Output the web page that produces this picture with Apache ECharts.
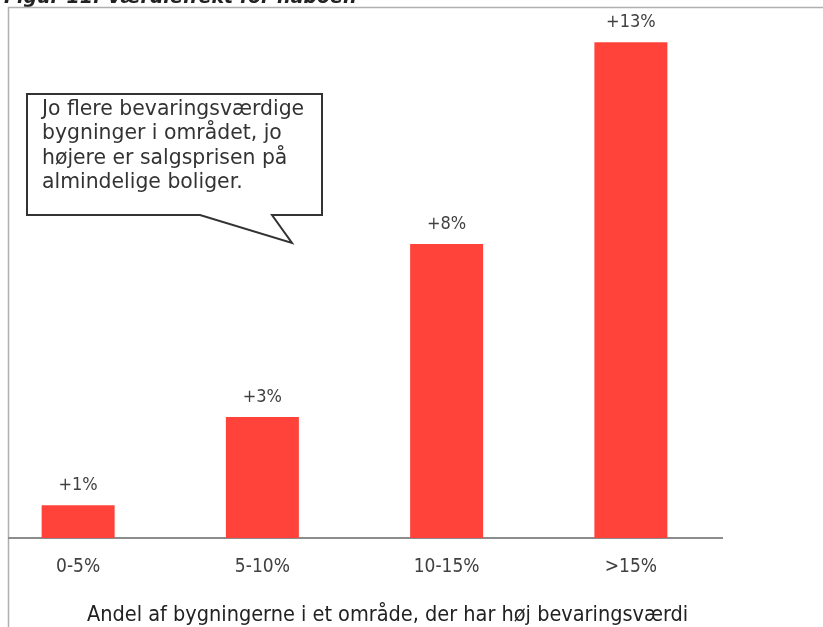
<!DOCTYPE html>
<html>
<head>
<meta charset="utf-8">
<script src="https://cdn.jsdelivr.net/npm/echarts@6/dist/echarts.min.js"></script>
<style>
    html,body{margin:0;padding:0;background:#fff;}
    #chart{width:823px;height:627px;}
</style>
</head>
<body>
<div id="chart"></div>
<script>
    // data
    const categories = ['0-5%', '5-10%', '10-15%', '>15%']
    const values = [0.86, 3.17, 7.71, 13]
    const valueLabels = ['+1%', '+3%', '+8%', '+13%']
    const calloutLines = [
        'Jo flere bevaringsværdige',
        'bygninger i området, jo',
        'højere er salgsprisen på',
        'almindelige boliger.'
    ]
    const axisTitle = 'Andel af bygningerne i et område, der har høj bevaringsværdi'

    const chart = echarts.init(document.getElementById('chart'))
    const narrow = '"Liberation Sans Narrow", "DejaVu Sans Condensed", sans-serif'

    const option = {
        animation: false,
        grid: {
            left: -14,
            width: 737,
            top: 4,
            bottom: 89,
            outerBoundsMode: 'none',
            containLabel: false
        },
        xAxis: {
            type: 'category',
            data: categories,
            axisLine: {show: false},
            axisTick: {show: false},
            axisLabel: {
                margin: 20,
                fontFamily: narrow,
                fontSize: 19,
                color: '#404040'
            }
        },
        yAxis: {
            type: 'value',
            min: 0,
            max: 14,
            show: false
        },
        series: [
            {
                type: 'bar',
                data: values,
                barWidth: 73,
                itemStyle: {color: '#ff433a'},
                label: {
                    show: true,
                    position: 'top',
                    distance: 11,
                    fontFamily: narrow,
                    fontSize: 18,
                    color: '#404040',
                    formatter: p => valueLabels[p.dataIndex]
                }
            }
        ],
        graphic: [
            // cut-off figure title at the very top
            {
                type: 'text',
                left: 4,
                top: -11,
                style: {
                    text: 'Figur 11: Værdieffekt for naboen',
                    font: 'italic bold 19px "DejaVu Sans", sans-serif',
                    fill: '#222'
                }
            },
            // frame lines
            {
                type: 'polyline',
                shape: {points: [[8.5, 627], [8.5, 7.5], [823, 7.5]]},
                style: {stroke: '#b0b0b0', lineWidth: 1.5, fill: null}
            },
            // baseline
            {
                type: 'line',
                shape: {x1: 8, y1: 538, x2: 723, y2: 538},
                style: {stroke: '#8c8c8c', lineWidth: 2}
            },
            // callout bubble
            {
                type: 'polygon',
                shape: {points: [[27, 94], [322, 94], [322, 215], [272, 215], [292, 243], [200, 215], [27, 215]]},
                style: {stroke: '#333', lineWidth: 2, fill: '#fff'}
            },
            {
                type: 'text',
                left: 42,
                top: 97,
                style: {
                    text: calloutLines.join('\n'),
                    font: '20.4px "DejaVu Sans", sans-serif',
                    lineHeight: 24.5,
                    fill: '#333'
                }
            },
            // x axis title
            {
                type: 'text',
                left: 87,
                top: 604,
                style: {
                    text: axisTitle,
                    font: '21.5px ' + narrow,
                    fill: '#222'
                }
            }
        ]
    }

    chart.setOption(option)
</script>
</body>
</html>
